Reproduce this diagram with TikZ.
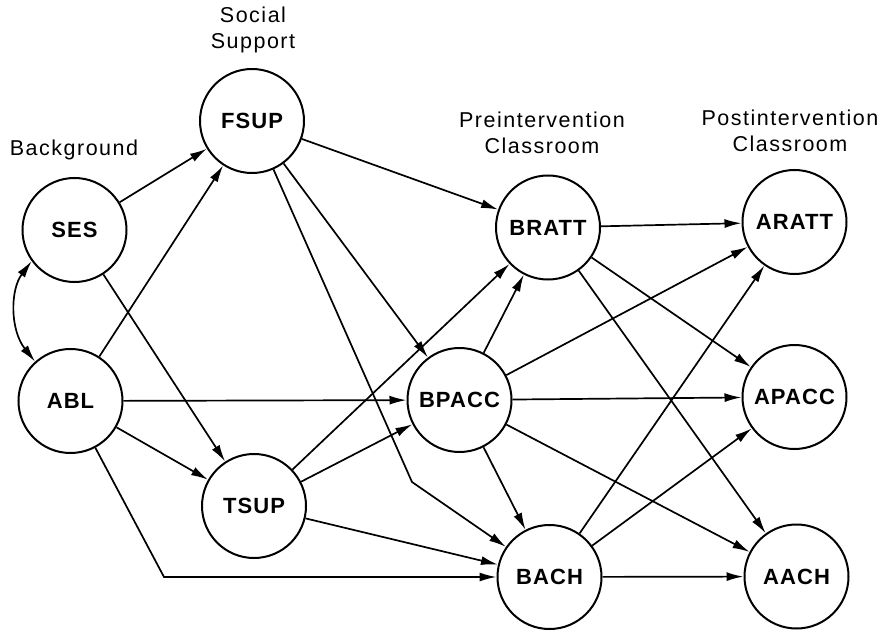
\documentclass[tikz,border=0pt]{standalone}
\usepackage{fontspec}
\setmainfont{Liberation Sans}
\newfontfamily\grplab[LetterSpace=7]{Liberation Sans}
\newfontfamily\varlab[LetterSpace=5]{Liberation Sans}
\usetikzlibrary{arrows.meta}
\begin{document}
\begin{tikzpicture}[x=1pt,y=-1pt,
  var/.style={circle,draw,line width=2pt,minimum size=104pt,inner sep=0pt,
    font=\varlab\bfseries\fontsize{22}{26}\selectfont},
  grp/.style={align=center,font=\grplab\fontsize{21.5}{26}\selectfont},
  arr/.style={line width=1.7pt,-{Latex[length=17pt,width=9pt]}},
  darr/.style={line width=1.7pt,{Latex[length=17pt,width=9pt]}-{Latex[length=17pt,width=9pt]}}]
\useasboundingbox (0,0) rectangle (887,631);
% group labels
\node[grp] (lsoc) at (253,30) {Social\\Support};
\node[grp] (lbg) at (74,150) {Background};
\node[grp] (lpre) at (542,133) {Preintervention\\Classroom};
\node[grp] (lpost) at (790,131) {Postintervention\\Classroom};
% variables
\node[var] (SES) at (74.5,230) {SES};
\node[var] (ABL) at (70.5,401) {ABL};
\node[var] (FSUP) at (252,121) {FSUP};
\node[var] (TSUP) at (254,506) {TSUP};
\node[var] (BRATT) at (548,227.5) {BRATT};
\node[var] (BPACC) at (459.5,400) {BPACC};
\node[var] (BACH) at (549.5,577) {BACH};
\node[var] (ARATT) at (794.5,222) {ARATT};
\node[var] (APACC) at (794.5,397) {APACC};
\node[var] (AACH) at (796.5,576.5) {AACH};
\coordinate (c1) at (164,577);
\coordinate (c2) at (412,482);
% background
\draw[darr] (SES.216) .. controls (10,290) and (10,330) .. (ABL.132);
\draw[arr] (SES) -- (FSUP);
\draw[arr] (ABL) -- (FSUP);
\draw[arr] (SES) -- (TSUP);
\draw[arr] (ABL) -- (TSUP);
\draw[arr] (ABL) -- (BPACC);
\draw[arr] (ABL) -- (c1) -- (BACH);
% social support
\draw[arr] (FSUP) -- (BRATT);
\draw[arr] (FSUP) -- (BPACC);
\draw[arr] (FSUP) -- (c2) -- (BACH);
\draw[arr] (TSUP) -- (BRATT);
\draw[arr] (TSUP) -- (BPACC);
\draw[arr] (TSUP) -- (BACH);
% preintervention
\draw[arr] (BPACC) -- (BRATT);
\draw[arr] (BPACC) -- (BACH);
\draw[arr] (BRATT) -- (ARATT);
\draw[arr] (BRATT) -- (APACC);
\draw[arr] (BRATT) -- (AACH);
\draw[arr] (BPACC) -- (ARATT);
\draw[arr] (BPACC) -- (APACC);
\draw[arr] (BPACC) -- (AACH);
\draw[arr] (BACH) -- (ARATT);
\draw[arr] (BACH) -- (APACC);
\draw[arr] (BACH) -- (AACH);
\end{tikzpicture}
\end{document}
